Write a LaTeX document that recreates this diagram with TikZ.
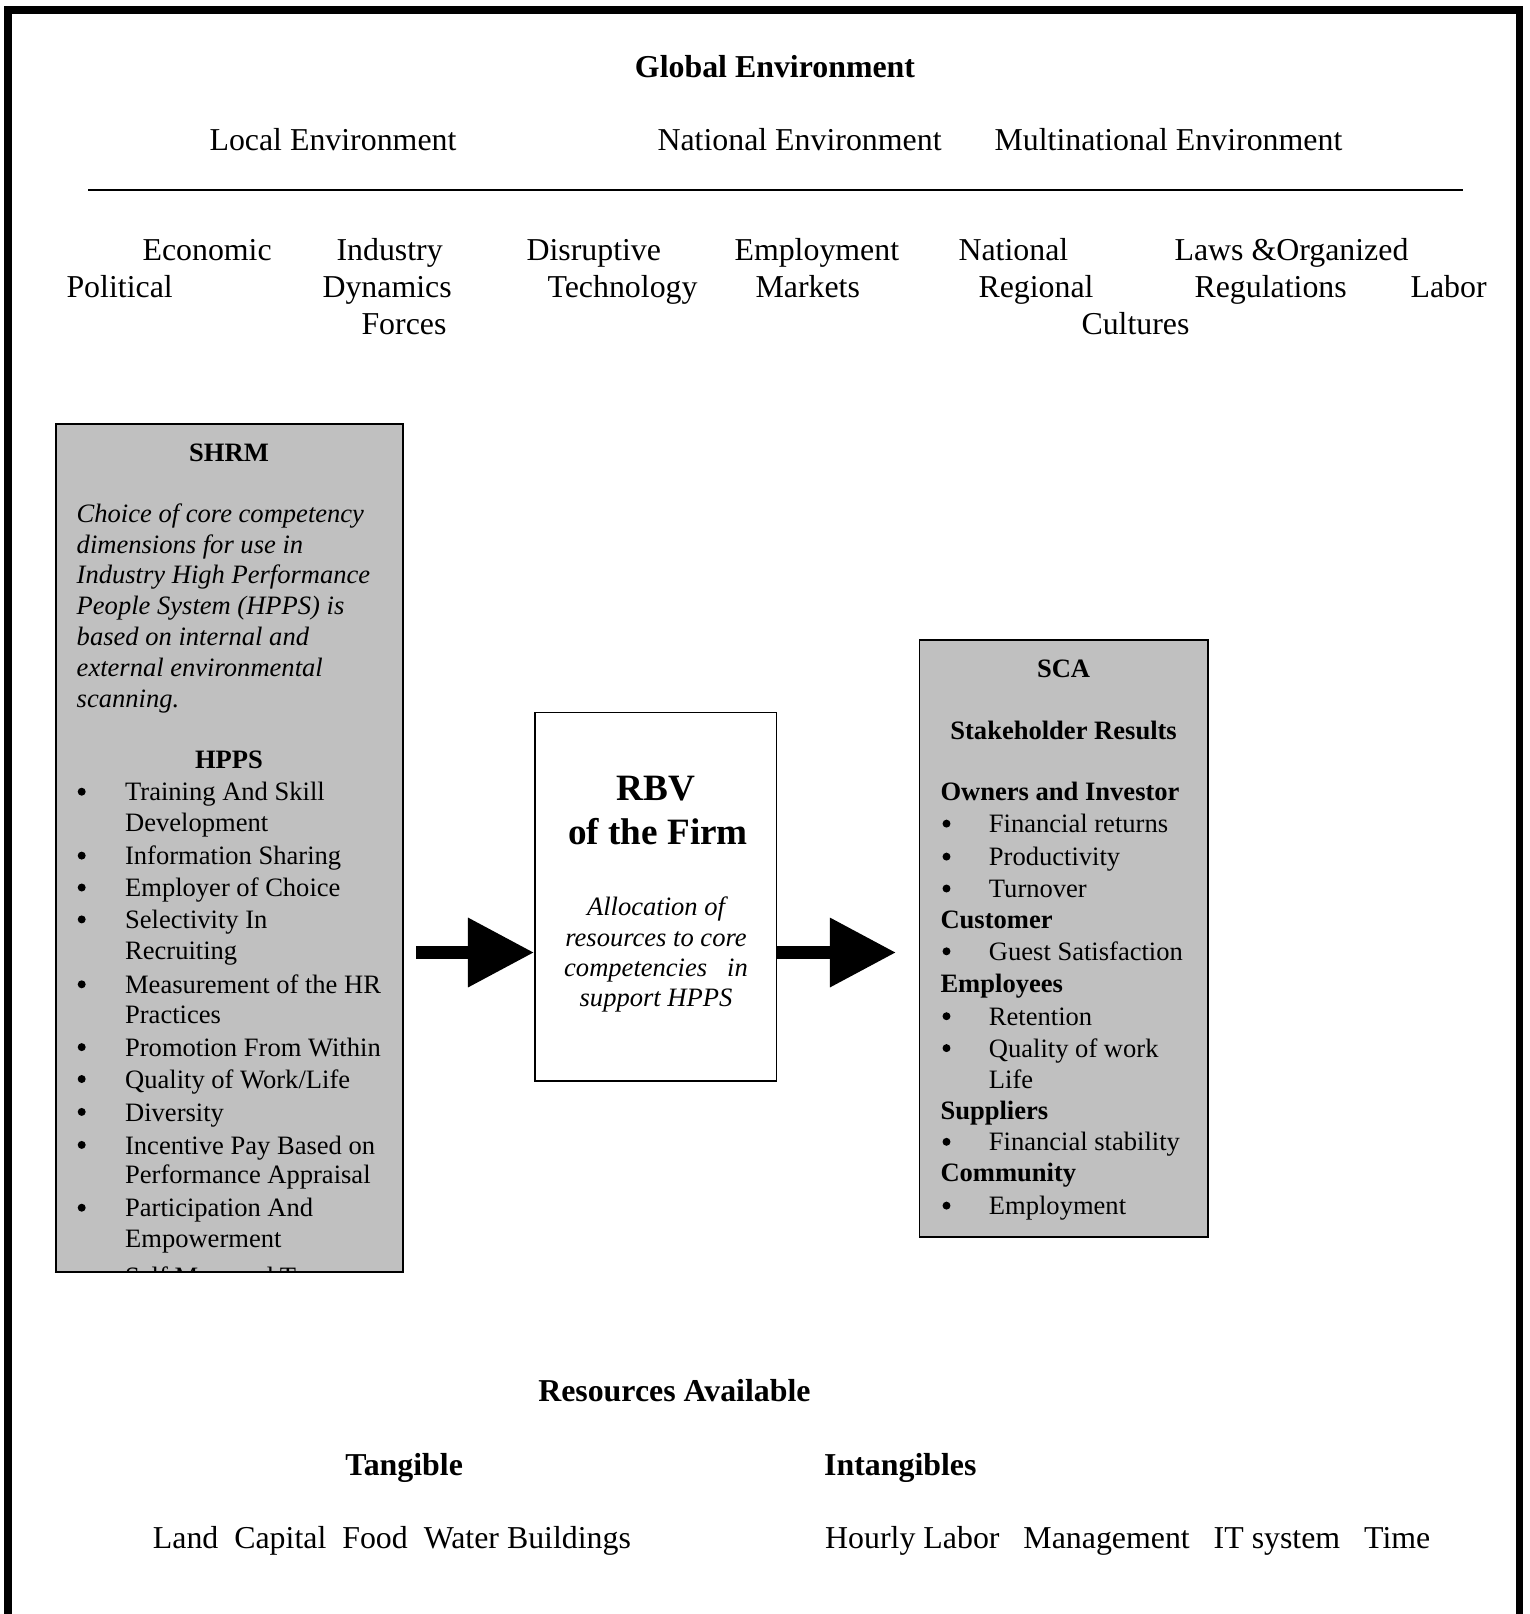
\documentclass[tikz,border=0pt]{standalone}
\usepackage{fontspec}
\setmainfont{Liberation Serif}
\usetikzlibrary{arrows.meta,fit}
\definecolor{boxgray}{HTML}{C0C0C0}
\tikzset{
  t12/.style={font=\fontsize{12}{13.8}\selectfont, inner sep=0pt, anchor=mid west},
  t12b/.style={font=\fontsize{12}{13.8}\selectfont\bfseries, inner sep=0pt, anchor=mid west},
  t10/.style={font=\fontsize{10}{11.5}\selectfont, inner sep=0pt, anchor=mid west},
  t10b/.style={font=\fontsize{10}{11.5}\selectfont\bfseries, inner sep=0pt, anchor=mid west},
  t10i/.style={font=\fontsize{10}{11.5}\selectfont\itshape, inner sep=0pt, anchor=mid west},
  t14b/.style={font=\fontsize{14}{16}\selectfont\bfseries, inner sep=0pt, anchor=mid},
  bul/.style={circle, fill=black, inner sep=0pt, minimum size=3pt},
  graybox/.style={draw=black, line width=0.7pt, fill=boxgray, inner sep=0pt},
  whitebox/.style={draw=black, line width=0.7pt, fill=white, inner sep=0pt},
  bigarrow/.style={line width=4.9pt, -{Triangle[length=24.9pt, width=24.9pt]}},
}
\begin{document}
\begin{tikzpicture}[x=0.3766pt,y=-0.3766pt]
\useasboundingbox (0,0) rectangle (1530,1614);
% outer frame (open at the bottom)
\draw[line width=3pt, line join=miter] (8,1630) -- (8,10) -- (1519.5,10) -- (1519.5,1630);

% rule under the environment levels
\coordinate (ruleL) at (88,190);
\coordinate (ruleR) at (1463,190);
\draw[line width=0.6pt] (ruleL) -- (ruleR);

% boxes
\node[graybox, fit={(55.6,424) (402.6,1271.5)}] (shrm) {};
\node[whitebox, fit={(535,712.5) (776.5,1081)}] (rbv) {};
\node[graybox, fit={(919.5,640.4) (1207.7,1236.6)}] (sca) {};

\begin{scope}[shift={(0,4)}]
% environments
\node[t12b, anchor=mid] (global) at (775,67) {Global Environment};
\node[t12] (local) at (209,140) {Local Environment};
\node[t12] (national) at (657,140) {National Environment};
\node[t12] (multi) at (994,140) {Multinational Environment};

\node[t12] (economic) at (142,250) {Economic};
\node[t12] (industry) at (336,250) {Industry};
\node[t12] (disruptive) at (526,250) {Disruptive};
\node[t12] (employment) at (734,250) {Employment};
\node[t12] (nationalf) at (958,250) {National};
\node[t12] (laws) at (1174,250) {Laws \&Organized};
\node[t12] (political) at (66,287) {Political};
\node[t12] (dynamics) at (322,287) {Dynamics};
\node[t12] (technology) at (547,287) {Technology};
\node[t12] (markets) at (755,287) {Markets};
\node[t12] (regional) at (978,287) {Regional};
\node[t12] (regulations) at (1194,287) {Regulations};
\node[t12] (labor) at (1410,287) {Labor};
\node[t12] (forces) at (361,324) {Forces};
\node[t12] (cultures) at (1081,324) {Cultures};

% SHRM content
\node[t10b, anchor=mid] (shrmT) at (229,451) {SHRM};
\foreach \y/\t [count=\k] in {512.7/{Choice of core competency},543.6/{dimensions for use in},573.5/{Industry High Performance},604.4/{People System (HPPS) is},635.3/{based on internal and},666.2/{external environmental},697/{scanning.}}
  \node[t10i] (shrmP\k) at (76.2,\y) {\t};
\node[t10b, anchor=mid] (hppsT) at (229,758.8) {HPPS};
\foreach \y [count=\k] in {790.7,854.6,886.5,918.4,983.3,1046.1,1078,1110.9,1143.9,1206.7}
  \node[bul] (shrmB\k) at (81.7,\y-3) {};
\foreach \y/\t [count=\k] in {790.7/{Training And Skill},821.6/{Development},854.6/{Information Sharing},886.5/{Employer of Choice},918.4/{Selectivity In},949.3/{Recruiting},983.3/{Measurement of the HR},1013.1/{Practices},1046.1/{Promotion From Within},1078/{Quality of Work/Life},1110.9/{Diversity},1143.9/{Incentive Pay Based on},1173.7/{Performance Appraisal},1206.7/{Participation And},1237.6/{Empowerment}}
  \node[t10] (shrmI\k) at (124.6,\y) {\t};

% SCA content
\node[t10b, anchor=mid] (scaT) at (1063.6,667.2) {SCA};
\node[t10b, anchor=mid] (scaS) at (1063.6,729) {Stakeholder Results};
\foreach \y/\t [count=\k] in {790.7/{Owners and Investor},918.4/{Customer},982.2/{Employees},1108.9/{Suppliers},1171.7/{Community}}
  \node[t10b] (scaH\k) at (940,\y) {\t};
\foreach \y [count=\k] in {822.6,855.6,887.5,950.3,1015.2,1047.1,1140.8,1204.6}
  \node[bul] (scaB\k) at (946.5,\y-3) {};
\foreach \y/\t [count=\k] in {822.6/{Financial returns},855.6/{Productivity},887.5/{Turnover},950.3/{Guest Satisfaction},1015.2/{Retention},1047.1/{Quality of work},1078/{Life},1140.8/{Financial stability},1204.6/{Employment}}
  \node[t10] (scaI\k) at (988.4,\y) {\t};

% RBV content
\foreach \y/\t [count=\k] in {905/{Allocation of},936/{resources to core},966.8/{competencies\ \ \ in},996.7/{support HPPS}}
  \node[t10i, anchor=mid] (rbvP\k) at (656,\y) {\t};

% resources
\node[t12b, anchor=mid] (resources) at (674.4,1391) {Resources Available};
\node[t12b] (tangible) at (344.9,1465.1) {Tangible};
\node[t12b] (intangible) at (823.7,1465.1) {Intangibles};
\node[t12] (tlist) at (152.4,1538.2) {Land\ \ Capital\ \ Food\ \ Water Buildings};
\node[t12] (ilist) at (824.7,1538.2) {Hourly Labor\ \ \ Management\ \ \ IT system\ \ \ Time};
\end{scope}

\begin{scope}[shift={(0,6)}]
\node[t14b] (rbvT1) at (656,788.7) {RBV};
\node[t14b] (rbvT2) at (658,832) {of the Firm};
\end{scope}

% last HPPS line, cut off by the box edge
\begin{scope}
  \clip (shrm.south west) rectangle (shrm.north east);
  \node[t10] (shrmCut) at (124.6,1279) {Self Managed Teams};
\end{scope}
\draw[line width=0.7pt] (shrm.south west) -- (shrm.south east);

% arrows
\coordinate (lstart) at (416,952.5);
\coordinate (rend) at (896,952.5);
\draw[bigarrow] (lstart) -- (lstart -| rbv.west);
\draw[bigarrow] (rbv.east |- rend) -- (rend);
\end{tikzpicture}
\end{document}
